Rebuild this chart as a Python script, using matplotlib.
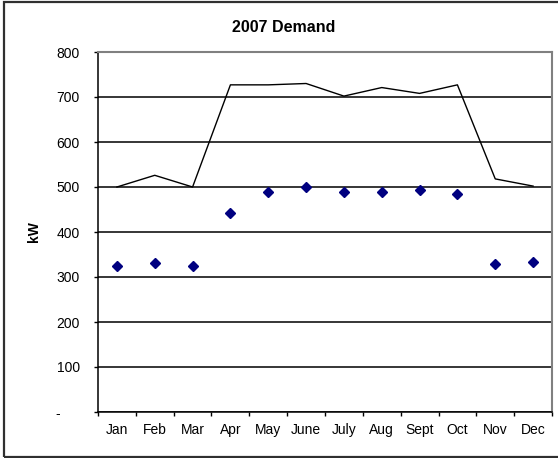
import matplotlib.pyplot as plt
from matplotlib.patches import Rectangle

plt.rcParams['font.family'] = ['Liberation Sans', 'DejaVu Sans']

# data
months = ['Jan', 'Feb', 'Mar', 'Apr', 'May', 'June', 'July', 'Aug', 'Sept', 'Oct', 'Nov', 'Dec']
line_kw = [500, 526, 500, 727, 727, 730, 702, 721, 708, 727, 518, 502]
point_kw = [325, 331, 325, 442, 490, 500, 490, 490, 494, 484, 328, 334]
ytick_vals = [0, 100, 200, 300, 400, 500, 600, 700, 800]
ytick_labels = ['-     ', '100', '200', '300', '400', '500', '600', '700', '800']

fig = plt.figure(figsize=(5.58, 4.58), dpi=100)
ax = fig.add_axes([98 / 558, 1 - 412 / 458, 454 / 558, 360 / 458])

x = range(len(months))
ax.plot(x, line_kw, color='black', lw=1.0, zorder=3)
ax.plot(x, point_kw, ls='none', marker='D', ms=5.5, color='#000080', zorder=4)

ax.set_xlim(-0.5, len(months) - 0.5)
ax.set_ylim(0, 800)
ax.set_yticks(ytick_vals)
ax.set_yticklabels(ytick_labels, fontsize=10)
ax.set_xticks([i - 0.5 for i in range(len(months) + 1)])
ax.set_xticklabels([])
ax.set_xticks(list(x), minor=True)
ax.set_xticklabels(months, minor=True, fontsize=10)
ax.tick_params(axis='x', which='minor', length=0, pad=8)
ax.tick_params(axis='x', which='major', direction='out', length=3, width=1)
ax.tick_params(axis='y', direction='out', length=3, width=1, pad=10)

ax.yaxis.grid(True, color='black', lw=1.1)
ax.set_axisbelow(True)
for s in ['top', 'right']:
    ax.spines[s].set_color('#808080')
    ax.spines[s].set_linewidth(1.5)
for s in ['left', 'bottom']:
    ax.spines[s].set_color('black')
    ax.spines[s].set_linewidth(1.1)

ax.set_ylabel('kW', fontsize=10, fontweight='bold', labelpad=11)
fig.text(284 / 558, 1 - 28 / 458, '2007 Demand', fontsize=11.5,
         fontweight='bold', ha='center', va='center')

fig.patches.append(Rectangle((4 / 558, 1.2 / 458), 570 / 558, 454.5 / 458,
                             transform=fig.transFigure, fill=False,
                             edgecolor='#303030', lw=1.6))

fig.savefig('out.png', dpi=100)
